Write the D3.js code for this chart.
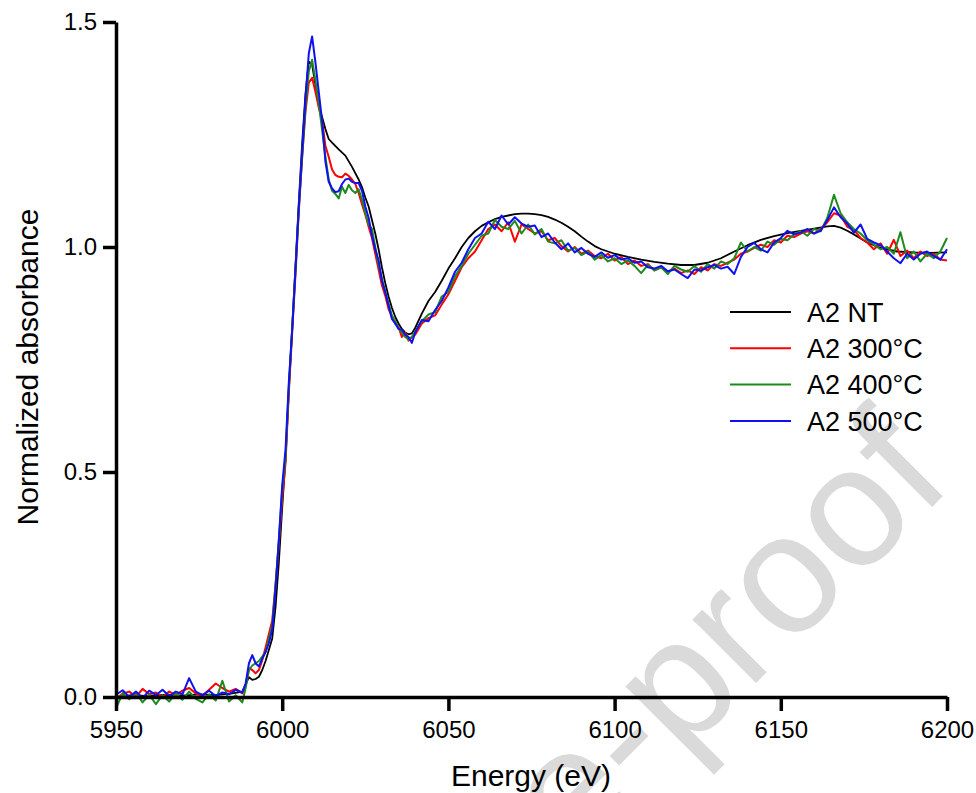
<!DOCTYPE html>
<html>
<head>
<meta charset="utf-8">
<script src="https://cdn.jsdelivr.net/npm/d3@7"></script>
<style>
    body { margin: 0; background: #fff; }
    text { font-family: Arial, "Liberation Sans", Helvetica, sans-serif; }
</style>
</head>
<body>
<div id="chart"></div>
<script>
// series names and colours for the legend
let seriesNames = ['A2 NT', 'A2 300°C', 'A2 400°C', 'A2 500°C']
let seriesColors = ['#000000', '#ff0000', '#1e8a1e', '#1010f0']

// tick values for both axes
let xTicks = [5950, 6000, 6050, 6100, 6150, 6200]
let yTicks = [0.0, 0.5, 1.0, 1.5]

// energy grid of the untreated sample (smooth curve)
let energyNT = [5950, 5955, 5960, 5965, 5970, 5975, 5980, 5985, 5988, 5990, 5991, 5992, 5993, 5994, 5995, 5996, 5997, 5998, 5999,
    6000, 6001, 6002, 6003, 6004, 6005, 6006, 6007, 6008, 6009, 6010, 6011, 6012, 6013, 6014, 6015, 6017, 6019, 6021, 6023, 6024,
    6025, 6026, 6027, 6028, 6029, 6030, 6031, 6032, 6033, 6034, 6035, 6036, 6037, 6038, 6039, 6040, 6042, 6044, 6046, 6048,
    6050, 6052, 6054, 6056, 6058, 6060, 6062, 6064, 6066, 6068, 6070, 6072, 6074, 6076, 6078, 6080, 6082, 6084, 6086, 6088,
    6090, 6092, 6094, 6096, 6098, 6100, 6104, 6108, 6112, 6116, 6120, 6124, 6128, 6132, 6136, 6140, 6144, 6148, 6152, 6156,
    6160, 6164, 6166, 6168, 6170, 6172, 6176, 6180, 6185, 6190, 6195, 6200]

let absNT = [0.0, 0.004, 0.002, 0.005, 0.003, 0.006, 0.004, 0.008, 0.012, 0.044, 0.038, 0.04, 0.045, 0.06, 0.08, 0.105, 0.13, 0.2, 0.3,
    0.42, 0.53, 0.68, 0.82, 0.96, 1.1, 1.23, 1.34, 1.412, 1.405, 1.36, 1.315, 1.289, 1.262, 1.24, 1.232, 1.217, 1.203, 1.178, 1.15, 1.133,
    1.11, 1.09, 1.06, 1.03, 0.995, 0.955, 0.92, 0.89, 0.865, 0.845, 0.83, 0.818, 0.81, 0.806, 0.808, 0.82, 0.852, 0.88, 0.9, 0.925,
    0.952, 0.975, 1.0, 1.02, 1.035, 1.047, 1.055, 1.062, 1.067, 1.07, 1.073, 1.074, 1.074, 1.073, 1.071, 1.067, 1.061, 1.054, 1.045, 1.035,
    1.023, 1.012, 1.002, 0.995, 0.99, 0.985, 0.978, 0.972, 0.967, 0.963, 0.96, 0.96, 0.965, 0.975, 0.99, 1.004, 1.016, 1.024, 1.031, 1.036,
    1.041, 1.046, 1.047, 1.043, 1.036, 1.028, 1.01, 0.998, 0.99, 0.988, 0.987, 0.988]

// energy grid shared by the three annealed samples
let energy = [5950, 5952, 5954, 5956, 5958, 5960, 5962, 5964, 5966, 5968, 5970, 5972, 5974, 5976, 5978, 5980, 5982, 5984, 5986, 5988,
    5989, 5990, 5991, 5992, 5993, 5994, 5995, 5996, 5997, 5998, 5999, 6000, 6001, 6002, 6003, 6004, 6005, 6006, 6007, 6008,
    6009, 6010, 6011, 6012, 6013, 6014, 6015, 6016, 6017, 6018, 6019, 6020, 6021, 6022, 6023, 6024, 6025, 6026, 6027, 6028,
    6029, 6030, 6031, 6032, 6033, 6034, 6035, 6036, 6037, 6038, 6039, 6040,
    6042, 6044, 6046, 6048, 6050, 6052, 6054, 6056, 6058, 6060, 6062, 6064, 6066, 6068, 6070, 6072, 6074, 6076, 6078, 6080,
    6082, 6084, 6086, 6088, 6090, 6092, 6094, 6096, 6098, 6100, 6102, 6104, 6106, 6108, 6110, 6112, 6114, 6116, 6118, 6120,
    6122, 6124, 6126, 6128, 6130, 6132, 6134, 6136, 6138, 6140, 6142, 6144, 6146, 6148, 6150, 6152, 6154, 6156, 6158, 6160,
    6162, 6164, 6166, 6168, 6170, 6172, 6174, 6176, 6178, 6180, 6182, 6184, 6186, 6188, 6190, 6192, 6194, 6196, 6198, 6200]

let abs300 = [-0.005, 0.008, 0.012, 0.0, 0.018, 0.006, 0.01, 0.0, 0.012, 0.004, 0.014, 0.02, 0.008, 0.002, 0.016, 0.03, 0.02, 0.012, 0.018, 0.008,
    0.025, 0.064, 0.06, 0.053, 0.06, 0.082, 0.11, 0.14, 0.17, 0.25, 0.34, 0.44, 0.52, 0.68, 0.81, 0.94, 1.08, 1.2, 1.3, 1.365,
    1.376, 1.345, 1.31, 1.28, 1.225, 1.2, 1.172, 1.16, 1.156, 1.155, 1.163, 1.158, 1.15, 1.14, 1.12, 1.095, 1.072, 1.045, 1.02, 0.985,
    0.95, 0.915, 0.892, 0.862, 0.846, 0.83, 0.822, 0.8, 0.81, 0.792, 0.8, 0.805,
    0.83, 0.842, 0.848, 0.872, 0.895, 0.925, 0.955, 0.975, 0.99, 1.015, 1.04, 1.05, 1.035, 1.055, 1.012, 1.05, 1.04, 1.03, 1.035, 1.015,
    1.02, 1.002, 0.99, 1.0, 0.985, 0.992, 0.98, 0.975, 0.985, 0.97, 0.978, 0.962, 0.97, 0.958, 0.962, 0.948, 0.955, 0.945, 0.952, 0.942,
    0.948, 0.94, 0.955, 0.948, 0.962, 0.958, 0.965, 0.972, 0.985, 0.99, 0.998, 1.005, 1.0, 1.015, 1.01, 1.025, 1.022, 1.03, 1.035, 1.03,
    1.04, 1.055, 1.075, 1.07, 1.045, 1.038, 1.02, 1.01, 0.995, 1.008, 0.985, 1.016, 0.98, 0.992, 0.975, 0.99, 0.98, 0.985, 0.972, 0.97]

let abs400 = [-0.025, 0.008, -0.005, 0.01, -0.012, 0.005, -0.016, 0.004, -0.01, 0.008, -0.006, 0.012, -0.004, -0.012, 0.006, -0.008, 0.036, -0.01, 0.004, -0.012,
    0.02, 0.06, 0.07, 0.075, 0.08, 0.09, 0.1, 0.13, 0.16, 0.25, 0.35, 0.46, 0.53, 0.69, 0.82, 0.95, 1.085, 1.2, 1.31, 1.39,
    1.416, 1.37, 1.32, 1.26, 1.2, 1.15, 1.125, 1.118, 1.108, 1.134, 1.12, 1.138, 1.126, 1.12, 1.128, 1.105, 1.075, 1.05, 1.04, 1.0,
    0.96, 0.93, 0.9, 0.875, 0.848, 0.835, 0.82, 0.81, 0.8, 0.795, 0.8, 0.812,
    0.835, 0.85, 0.855, 0.89, 0.9, 0.935, 0.958, 0.985, 1.005, 1.025, 1.03, 1.06, 1.045, 1.04, 1.058, 1.03, 1.05, 1.028, 1.04, 1.012,
    1.008, 1.015, 0.992, 0.998, 0.982, 0.99, 0.972, 0.982, 0.968, 0.975, 0.962, 0.97, 0.958, 0.942, 0.96, 0.948, 0.955, 0.94, 0.958, 0.95,
    0.945, 0.958, 0.945, 0.962, 0.952, 0.968, 0.962, 0.975, 1.01, 0.99, 1.0, 0.992, 1.012, 1.005, 1.018, 1.015, 1.028, 1.035, 1.025, 1.04,
    1.035, 1.065, 1.116, 1.075, 1.055, 1.04, 1.03, 1.015, 1.005, 0.995, 1.0, 0.985, 1.033, 0.975, 0.99, 0.968, 0.985, 0.975, 0.99, 1.02]

let abs500 = [0.005, 0.015, 0.0, 0.012, -0.002, 0.014, 0.004, 0.016, 0.002, 0.012, 0.006, 0.042, 0.012, 0.004, 0.014, 0.002, 0.01, 0.006, 0.016, 0.01,
    0.03, 0.075, 0.093, 0.075, 0.068, 0.085, 0.1, 0.12, 0.15, 0.24, 0.35, 0.47, 0.55, 0.7, 0.815, 0.95, 1.09, 1.21, 1.33, 1.43,
    1.468, 1.41, 1.345, 1.28, 1.19, 1.145, 1.13, 1.122, 1.124, 1.14, 1.15, 1.152, 1.145, 1.142, 1.142, 1.125, 1.09, 1.065, 1.025, 0.995,
    0.97, 0.925, 0.9, 0.87, 0.84, 0.83, 0.818, 0.816, 0.805, 0.8, 0.787, 0.81,
    0.838, 0.835, 0.86, 0.88, 0.91, 0.945, 0.965, 0.995, 1.02, 1.03, 1.056, 1.04, 1.07, 1.05, 1.066, 1.052, 1.045, 1.048, 1.022, 1.03,
    1.01, 0.995, 1.008, 0.988, 0.998, 0.985, 0.978, 0.988, 0.976, 0.982, 0.972, 0.975, 0.965, 0.968, 0.955, 0.952, 0.958, 0.946, 0.95, 0.94,
    0.931, 0.95, 0.948, 0.955, 0.96, 0.952, 0.956, 0.94, 0.978, 1.0, 1.009, 0.995, 0.988, 1.01, 1.02, 1.036, 1.028, 1.032, 1.04, 1.03,
    1.036, 1.06, 1.088, 1.066, 1.052, 1.032, 1.05, 1.018, 1.01, 1.004, 0.99, 0.975, 0.964, 0.985, 0.972, 0.985, 0.99, 0.98, 0.972, 0.995]

// set the dimensions of the svg and the plot area
let width = 976,
    height = 793,
    plotLeft = 116,
    plotRight = 947,
    plotTop = 22,
    plotBottom = 697;

let svg = d3.select("#chart")
    .append("svg")
    .attr("width", width)
    .attr("height", height)

// scales
let x = d3.scaleLinear()
    .domain([5950, 6200])
    .range([plotLeft, plotRight])

let y = d3.scaleLinear()
    .domain([0, 1.5])
    .range([plotBottom, plotTop])

// light grey watermark behind the chart
svg.append("text")
    .attr("transform", "translate(955,484) rotate(-45)")
    .attr("text-anchor", "end")
    .style("font-size", "170px")
    .style("fill", "#dadada")
    .text("Journal Pre-proof")

// build one series array for each curve
let allSeries = [
    energyNT.map(function(e, i) {return {e: e, v: absNT[i]}}),
    energy.map(function(e, i) {return {e: e, v: abs300[i]}}),
    energy.map(function(e, i) {return {e: e, v: abs400[i]}}),
    energy.map(function(e, i) {return {e: e, v: abs500[i]}})
]

let line = d3.line()
    .x(function(d) {return x(d.e)})
    .y(function(d) {return y(d.v)})

// draw the curves, the untreated one first and the 500 C one on top
svg.selectAll(".curve")
    .data(allSeries)
    .enter()
    .append("path")
    .classed("curve", true)
    .attr("d", line)
    .style("fill", "none")
    .style("stroke", function(d, i) {return seriesColors[i]})
    .style("stroke-width", function(d, i) {return i === 0 ? 1.8 : 2})
    .style("stroke-linejoin", "round")

// x axis
let xAxis = svg.append("g")
    .attr("transform", "translate(0," + plotBottom + ")")
    .call(d3.axisBottom(x)
        .tickValues(xTicks)
        .tickFormat(d3.format("d"))
        .tickSize(14)
        .tickSizeOuter(0)
        .tickPadding(10))

// y axis
let yAxis = svg.append("g")
    .attr("transform", "translate(" + plotLeft + ",0)")
    .call(d3.axisLeft(y)
        .tickValues(yTicks)
        .tickFormat(d3.format(".1f"))
        .tickSize(13)
        .tickSizeOuter(0)
        .tickPadding(6))

// style both axes like the original figure
svg.selectAll(".domain, .tick line")
    .style("stroke", "#000")
    .style("stroke-width", 3.5)
svg.selectAll(".tick text")
    .style("font-size", "24px")
    .style("font-family", "Arial, 'Liberation Sans', sans-serif")
    .style("fill", "#000")

// axis labels
svg.append("text")
    .attr("x", 531)
    .attr("y", 786)
    .attr("text-anchor", "middle")
    .style("font-size", "30px")
    .text("Energy (eV)")

svg.append("text")
    .attr("transform", "translate(38,367) rotate(-90)")
    .attr("text-anchor", "middle")
    .style("font-size", "30px")
    .text("Normalized absorbance")

// legend
let legend = svg.selectAll(".legend-item")
    .data(seriesNames)
    .enter()
    .append("g")
    .classed("legend-item", true)
    .attr("transform", function(d, i) {return "translate(730," + (312 + i * 36.3) + ")"})

legend.append("line")
    .attr("x1", 0)
    .attr("x2", 61)
    .style("stroke", function(d, i) {return seriesColors[i]})
    .style("stroke-width", 2)

legend.append("text")
    .attr("x", 77)
    .attr("dy", "0.36em")
    .style("font-size", "27px")
    .text(function(d) {return d})
</script>
</body>
</html>
